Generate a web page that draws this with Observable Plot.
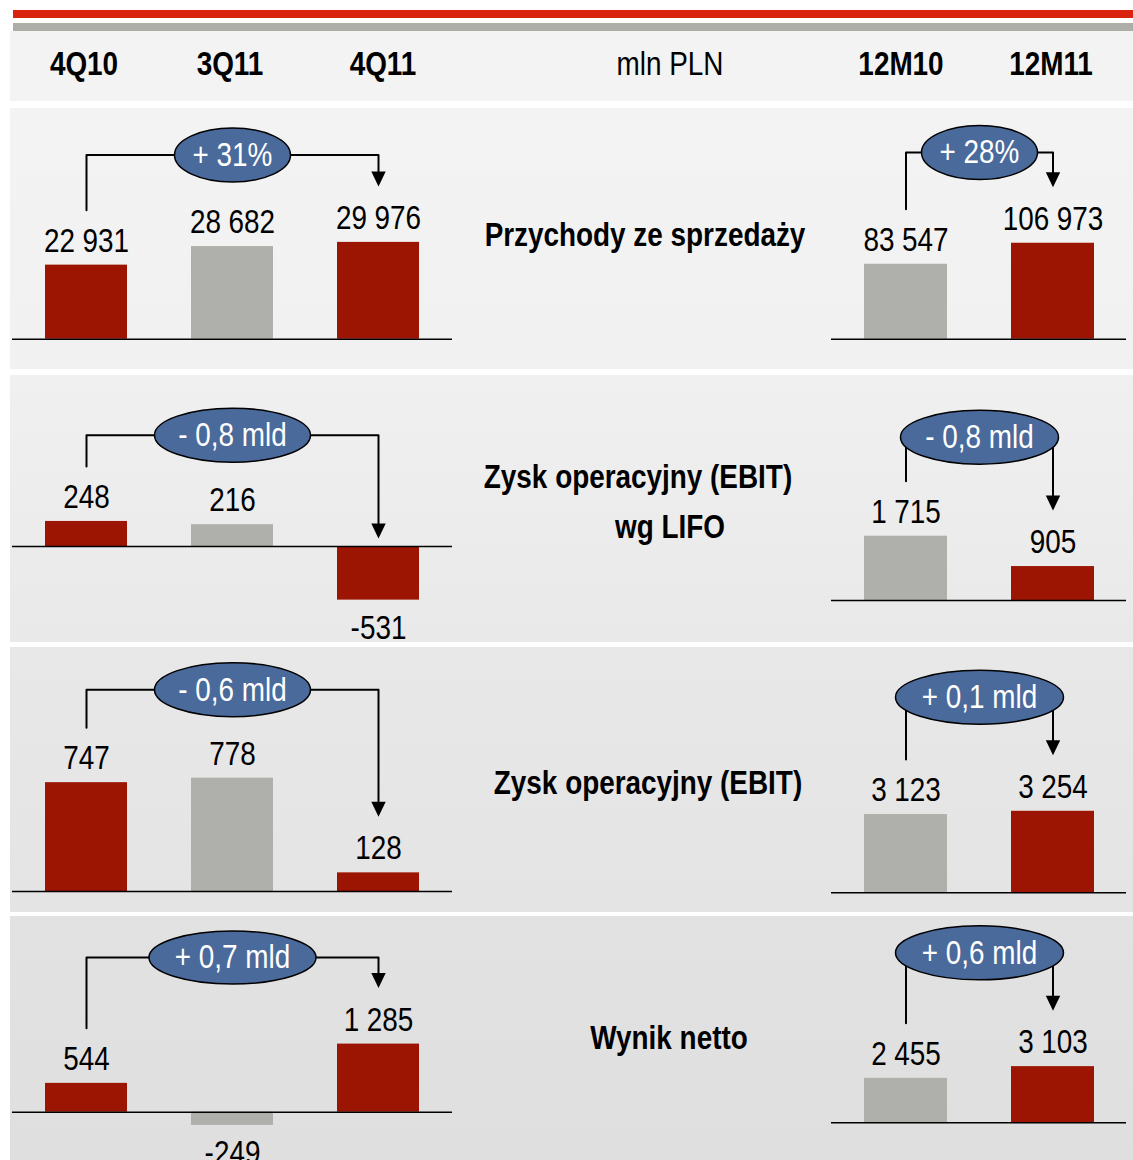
<!DOCTYPE html>
<html><head><meta charset="utf-8">
<script src="https://cdn.jsdelivr.net/npm/d3@7"></script>
<script src="https://cdn.jsdelivr.net/npm/@observablehq/plot@0.6"></script>
<style>
html,body{margin:0;padding:0;background:#fff;overflow:hidden}
#page{position:relative;width:1133px;height:1160px;overflow:hidden;background:#fff}
.blk{position:absolute}
.lbl{position:absolute;white-space:nowrap;font-size:34px;line-height:34px;color:#000;transform-origin:0 0}
.chart{position:absolute}
</style></head><body><div id="page"></div>
<script>
// ---------------- DATA ----------------
const quarters = ["4Q10", "3Q11", "4Q11"];
const years = ["12M10", "12M11"];
const unitLabel = "mln PLN";
const metrics = [["Przychody ze sprzedaży"], ["Zysk operacyjny (EBIT)", "wg LIFO"], ["Zysk operacyjny (EBIT)"], ["Wynik netto"]];
const quarterValues = [[22931, 28682, 29976], [248, 216, -531], [747, 778, 128], [544, -249, 1285]];
const yearValues = [[83547, 106973], [1715, 905], [3123, 3254], [2455, 3103]];
const quarterChange = ["+ 31%", "- 0,8 mld", "- 0,6 mld", "+ 0,7 mld"];
const yearChange = ["+ 28%", "- 0,8 mld", "+ 0,1 mld", "+ 0,6 mld"];

// ---------------- STYLE / LAYOUT ----------------
const RED = "#9b1502", GRAY = "#afafab", BLUE = "#4a6a9b";
const quarterColors = [RED, GRAY, RED];
const yearColors = [GRAY, RED];
const panels = [
  {top: 108, h: 261, c0: "#f3f3f3", c1: "#f1f1f1"},
  {top: 375, h: 267, c0: "#f0f0f0", c1: "#e9e9e9"},
  {top: 647, h: 265, c0: "#e8e8e8", c1: "#e4e4e4"},
  {top: 916, h: 250, c0: "#e2e2e2", c1: "#dfdfdf"}
];
// baseline (px from panel top), px per unit, ellipse centre y (px from panel top), ellipse radii
const leftLayout = [
  {b: 230.7, k: 0.00323, yE: 46.5, rx: 58, ry: 27},
  {b: 171, k: 0.101, yE: 59.7, rx: 78, ry: 27},
  {b: 244, k: 0.1457, yE: 42.2, rx: 78, ry: 27},
  {b: 195.7, k: 0.053, yE: 41, rx: 83.5, ry: 26.5}
];
const rightLayout = [
  {b: 230.7, k: 0.000897, yE: 44, rx: 58, ry: 27},
  {b: 225, k: 0.0375, yE: 61.7, rx: 79, ry: 27},
  {b: 245.3, k: 0.02505, yE: 49.7, rx: 84, ry: 27},
  {b: 206.3, k: 0.0181, yE: 36.3, rx: 84, ry: 27}
];
const leftFrame = {left: 12, width: 440, range: [1, 439], pi: 1 - 82 / 146};
const rightFrame = {left: 831, width: 295, range: [0.5, 294.5], pi: 1 - 83 / 147};
const metricPos = [[[645, 245.7]], [[638, 487.7], [669.5, 537.7]], [[647.5, 793.3]], [[669, 1048.3]]];
const headerPos = {quarters: [84, 230, 383], years: [901, 1051], unit: 670, baseline: 75};

// ---------------- FONT ----------------
function hasFont(name) {
  const c = document.createElement("canvas").getContext("2d");
  const s = "abcdefghijklmnopqrstuvwxyz0123456789ABCDEFGHIJ";
  c.font = "40px monospace"; const w0 = c.measureText(s).width;
  c.font = `40px "${name}", monospace`; const w1 = c.measureText(s).width;
  return Math.abs(w0 - w1) > 0.5;
}
const NARROW = hasFont("Liberation Sans Narrow");
const FONT = NARROW ? '"Liberation Sans Narrow", "Arial Narrow", sans-serif' : '"Liberation Sans", Arial, sans-serif';
const SX = NARROW ? 1 : 0.82;
const ASC = 28.8;

const page = document.getElementById("page");
function block(x, y, w, h, bg) {
  const d = document.createElement("div"); d.className = "blk";
  Object.assign(d.style, {left: x + "px", top: y + "px", width: w + "px", height: h + "px", background: bg});
  page.appendChild(d);
}
function label(text, cx, base, bold) {
  const d = document.createElement("div"); d.className = "lbl"; d.textContent = text;
  Object.assign(d.style, {left: cx + "px", top: (base - ASC) + "px", fontFamily: FONT, fontWeight: bold ? "bold" : "normal",
    transform: `scaleX(${SX}) translateX(-50%)`});
  page.appendChild(d);
}

// top decoration + header
block(13, 10, 1120, 7.5, "#d9230f");
block(13, 23, 1120, 8, "#aeaea9");
block(10, 31, 1123, 70, "#f3f3f3");
panels.forEach(p => block(10, p.top, 1123, p.h, `linear-gradient(${p.c0}, ${p.c1})`));
quarters.forEach((q, i) => label(q, headerPos.quarters[i], headerPos.baseline, true));
years.forEach((q, i) => label(q, headerPos.years[i], headerPos.baseline, true));
label(unitLabel, headerPos.unit, headerPos.baseline, false);
metrics.forEach((lines, i) => lines.forEach((t, j) => label(t, metricPos[i][j][0], metricPos[i][j][1], true)));

// ---------------- CHARTS ----------------
const loc = d3.formatLocale({decimal: ",", thousands: " ", grouping: [3], currency: ["", ""], minus: "-"});
const fmt = loc.format(",d");
const KAPPA = 0.5522848;
const ellipseSymbol = (rx, ry) => ({draw(ctx) {
  ctx.moveTo(rx, 0);
  ctx.bezierCurveTo(rx, ry * KAPPA, rx * KAPPA, ry, 0, ry);
  ctx.bezierCurveTo(-rx * KAPPA, ry, -rx, ry * KAPPA, -rx, 0);
  ctx.bezierCurveTo(-rx, -ry * KAPPA, -rx * KAPPA, -ry, 0, -ry);
  ctx.bezierCurveTo(rx * KAPPA, -ry, rx, -ry * KAPPA, rx, 0);
  ctx.closePath();
}});
const HEAD = 15;
const arrowSymbol = {draw(ctx) { ctx.moveTo(0, 0); ctx.lineTo(-7.2, -HEAD); ctx.lineTo(7.2, -HEAD); ctx.closePath(); }};

function makeChart(cats, vals, colors, change, L, F, panel) {
  const {b, k, yE, rx, ry} = L;
  const H = panel.h;
  const px2v = p => (b - p) / k;
  const data = cats.map((c, i) => ({cat: c, value: vals[i], color: colors[i]}));
  const first = data[0], last = data[data.length - 1];
  const topPx = v => b - Math.max(v, 0) * k;
  const startY = px2v(topPx(first.value) - 55);
  const tipY = px2v(topPx(last.value) - (last.value >= 0 ? 56 : 8));
  const levelY = px2v(yE);
  const bracket = [
    {cat: first.cat, y: startY}, {cat: first.cat, y: levelY},
    {cat: last.cat, y: levelY}, {cat: last.cat, y: tipY + HEAD / k}
  ];
  const step = (F.range[1] - F.range[0]) / cats.length;
  const half = step * (cats.length - 1) / 2;
  const svg = Plot.plot({
    width: F.width, height: H, margin: 0,
    style: {background: "transparent", overflow: "visible"},
    x: {domain: cats, range: F.range, paddingInner: F.pi, paddingOuter: F.pi / 2, axis: null},
    y: {domain: [-(H - b) / k, b / k], range: [H, 0], axis: null},
    color: {type: "identity"},
    marks: [
      Plot.barY(data, {x: "cat", y: "value", fill: "color"}),
      Plot.ruleY([0], {stroke: "#000", strokeWidth: 1.5}),
      Plot.text(data.filter(d => d.value >= 0), {x: "cat", y: "value", text: d => fmt(d.value), lineAnchor: "bottom", dy: -13.5, fontSize: 34, fontFamily: FONT, fill: "#000"}),
      Plot.text(data.filter(d => d.value < 0), {x: "cat", y: "value", text: d => fmt(d.value), lineAnchor: "top", dy: 14.5, fontSize: 34, fontFamily: FONT, fill: "#000"}),
      Plot.line(bracket, {x: "cat", y: "y", stroke: "#000", strokeWidth: 2}),
      Plot.dot([last], {x: "cat", y: () => tipY, symbol: arrowSymbol, fill: "#000", stroke: "none", r: 5}),
      Plot.dot([change], {x: () => first.cat, y: () => levelY, dx: half, symbol: ellipseSymbol(rx, ry), r: 5, fill: BLUE, stroke: "#000", strokeWidth: 1.5}),
      Plot.text([change], {x: () => first.cat, y: () => levelY, dx: half, text: d => d, fill: "#fff", fontSize: 34, fontFamily: FONT, lineAnchor: "middle"})
    ]
  });
  if (SX !== 1) svg.querySelectorAll("text").forEach(t => {
    const tr = t.getAttribute("transform") || "";
    t.setAttribute("transform", tr + ` scale(${SX},1)`);
  });
  const wrap = document.createElement("div"); wrap.className = "chart";
  Object.assign(wrap.style, {left: F.left + "px", top: panel.top + "px"});
  wrap.appendChild(svg);
  page.appendChild(wrap);
}

panels.forEach((p, i) => {
  makeChart(quarters, quarterValues[i], quarterColors, quarterChange[i], leftLayout[i], leftFrame, p);
  makeChart(years, yearValues[i], yearColors, yearChange[i], rightLayout[i], rightFrame, p);
});
</script></body></html>
